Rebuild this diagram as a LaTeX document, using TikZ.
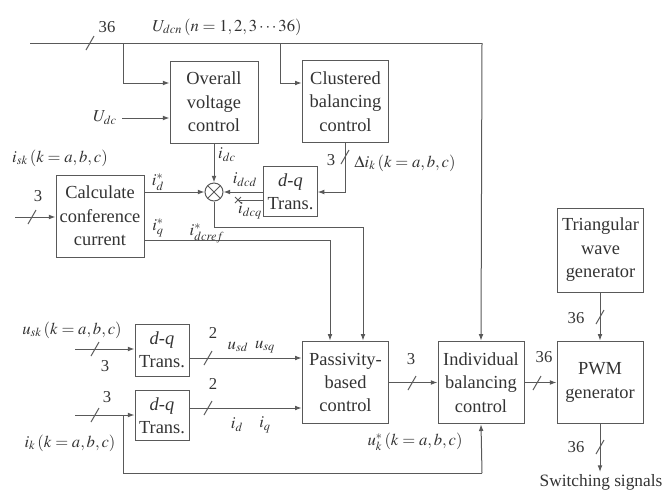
\documentclass[tikz,border=0pt]{standalone}
\usepackage{mathptmx}
\usepackage{fontspec}
\setmainfont{Liberation Serif}
\usetikzlibrary{arrows.meta,calc}
\begin{document}
\begin{tikzpicture}[x=0.75pt,y=-0.75pt,
  line/.style={draw=black!65,line width=0.75pt},
  arr/.style={line,-{Latex[length=5pt,width=3.6pt]}},
  blk/.style={line,rectangle,inner sep=1pt,align=center,font=\fontsize{13.8}{17.6}\selectfont,text=black!80},
  lbl/.style={font=\fontsize{12.5}{14}\selectfont,text=black!80,inner sep=0pt},
  slash/.pic={\draw[draw=black!65,line width=0.75pt] (-4,7) -- (4,-7);}
]
\useasboundingbox (0,0) rectangle (667,490);

% blocks
\node[blk,minimum width=66pt,minimum height=61.5pt] (ovr) at (214,102) {Overall\\voltage\\control};
\node[blk,minimum width=65pt,minimum height=62pt] (clu) at (345.5,101.5) {Clustered\\balancing\\control};
\node[blk,minimum width=66pt,minimum height=61.5pt] (calc) at (100,216) {Calculate\\conference\\current};
\node[blk,minimum width=40pt,minimum height=38pt] (dqt) at (290.5,191.5) {\textit{d-q}\\Trans.};
\node[line,circle,minimum size=13.5pt,inner sep=0pt] (mul) at (214,192) {};
\draw[line] ($(mul.center)+(-6.4,-6.4)$) -- ($(mul.center)+(6.4,6.4)$);
\draw[line] ($(mul.center)+(-6.4,6.4)$) -- ($(mul.center)+(6.4,-6.4)$);
\node[blk,minimum width=65pt,minimum height=62pt] (pbc) at (345.5,382.5) {Passivity-\\based\\control};
\node[blk,minimum width=64.5pt,minimum height=62pt] (ind) at (481,382.5) {Individual\\balancing\\control};
\node[blk,minimum width=64.5pt,minimum height=62pt] (pwm) at (600,382.5) {PWM\\generator};
\node[blk,minimum width=65pt,minimum height=63pt] (tri) at (600.5,250) {Triangular\\wave\\generator};
\node[blk,minimum width=40.5pt,minimum height=39pt] (dqu) at (162,350) {\textit{d-q}\\Trans.};
\node[blk,minimum width=40.5pt,minimum height=38pt] (dqi) at (162,415.5) {\textit{d-q}\\Trans.};

% coordinates
\coordinate (busL) at (30,43);
\coordinate (busR) at (482,43);
\coordinate (br1) at (123,43);
\coordinate (br2) at (280,43);
\coordinate (udcS) at (122,118);
\coordinate (calcS) at (15,217);
\coordinate (uS) at (75,349);
\coordinate (iS) at (75,415);
\coordinate (iJ) at (123,415);
\coordinate (fb1) at (123,473);
\coordinate (fb2) at (482,473);
\coordinate (clD) at (345,192);
\coordinate (refA) at (214,227);
\coordinate (refB) at (363,227);
\coordinate (iqA) at (330,240);
\coordinate (dcqE) at (238,200);
\coordinate (swS) at (600,472);

% top bus
\draw[line] (busL) -- (busR);
\draw[arr] (busR) -- (ind.north);
\pic at (90,43) {slash};
\draw[arr] (br1) |- (ovr.west |- 0,83);
\draw[arr] (br2) |- (clu.west |- 0,83);
\draw[arr] (udcS) -- (ovr.west |- udcS);

% clustered -> dq trans
\draw[arr] (clu.south -| clD) -- (clD) -- (dqt.east |- clD);
\pic at (345,157) {slash};

% multiplier connections
\draw[arr] (ovr.south -| mul) -- (mul.north);
\draw[arr] (dqt.west |- mul) -- (mul.east);
\draw[line] (dqt.west |- dcqE) -- (dcqE);
\draw[line] ($(dcqE)+(-3,-3)$) -- ($(dcqE)+(3,3)$);
\draw[line] ($(dcqE)+(-3,3)$) -- ($(dcqE)+(3,-3)$);
\draw[arr] (calc.east |- mul) -- (mul.west);
\draw[arr] (mul.south) -- (refA) -- (refB) -- (pbc.north -| refB);
\draw[arr] (calc.east |- iqA) -- (iqA) -- (pbc.north -| iqA);

% calc input
\draw[arr] (calcS) -- (calc.west |- calcS);
\pic at (32,217) {slash};

% lower inputs
\draw[arr] (uS) -- (dqu.west |- uS);
\pic at (95,349) {slash};
\draw[arr] (iS) -- (dqi.west |- iS);
\pic at (95,415) {slash};
\draw[line] (iJ) -- (fb1) -- (fb2);
\draw[arr] (fb2) -- (ind.south);

% dq -> passivity
\draw[arr] (dqu.east |- 0,358) -- (pbc.west |- 0,358);
\pic at (208,358) {slash};
\draw[arr] (dqi.east |- 0,408) -- (pbc.west |- 0,408);
\pic at (208,408) {slash};

% right side
\draw[arr] (pbc.east) -- (ind.west);
\pic at (412,383) {slash};
\draw[arr] (ind.east) -- (pwm.west);
\pic at (537,383) {slash};
\draw[arr] (tri.south -| pwm) -- (pwm.north);
\pic at (600,317) {slash};
\draw[arr] (pwm.south) -- (swS);
\pic at (600,447) {slash};

% labels
\node[lbl] (l36a) at (107,27) {36};
\node[lbl] (lud) at (227,27) {$U_{dcn}\left(n=1,2,3\cdots36\right)$};
\node[lbl] (ludc) at (105,118) {$U_{dc}$};
\node[lbl] (lidc) at (227,155) {$i_{dc}$};
\node[lbl] (lisk) at (60,158) {$i_{sk}\left(k=a,b,c\right)$};
\node[lbl] (l3c) at (38,196) {3};
\node[lbl] (lid) at (158,182) {$i_d^*$};
\node[lbl] (liq) at (158,228) {$i_q^*$};
\node[lbl] (lidcd) at (245,180) {$i_{dcd}$};
\node[lbl] (lidcq) at (250,211) {$i_{dcq}$};
\node[lbl] (lref) at (207,233) {$i^*_{dcref}$};
\node[lbl] (l3b) at (331,160) {3};
\node[lbl] (ldi) at (405,163) {$\Delta i_k\left(k=a,b,c\right)$};
\node[lbl] (lusk) at (72,330) {$u_{sk}\left(k=a,b,c\right)$};
\node[lbl] (l3u) at (105,366) {3};
\node[lbl] (l3i) at (107,397) {3};
\node[lbl] (lik) at (70,443) {$i_k\left(k=a,b,c\right)$};
\node[lbl] (l2u) at (213,333) {2};
\node[lbl] (lusd) at (238,347) {$u_{sd}$};
\node[lbl] (lusq) at (265,347) {$u_{sq}$};
\node[lbl] (l2i) at (213,384) {2};
\node[lbl] (lidd) at (237,425) {$i_d$};
\node[lbl] (liqq) at (265,425) {$i_q$};
\node[lbl] (l3p) at (411,359) {3};
\node[lbl] (l36i) at (544,357) {36};
\node[lbl] (luk) at (415,442) {$u_k^*\left(k=a,b,c\right)$};
\node[lbl] (l36t) at (576,318) {36};
\node[lbl] (l36p) at (576,447) {36};
\node[lbl,font=\fontsize{13}{14}\selectfont] (lsw) at (601,482) {Switching signals};
\end{tikzpicture}
\end{document}
